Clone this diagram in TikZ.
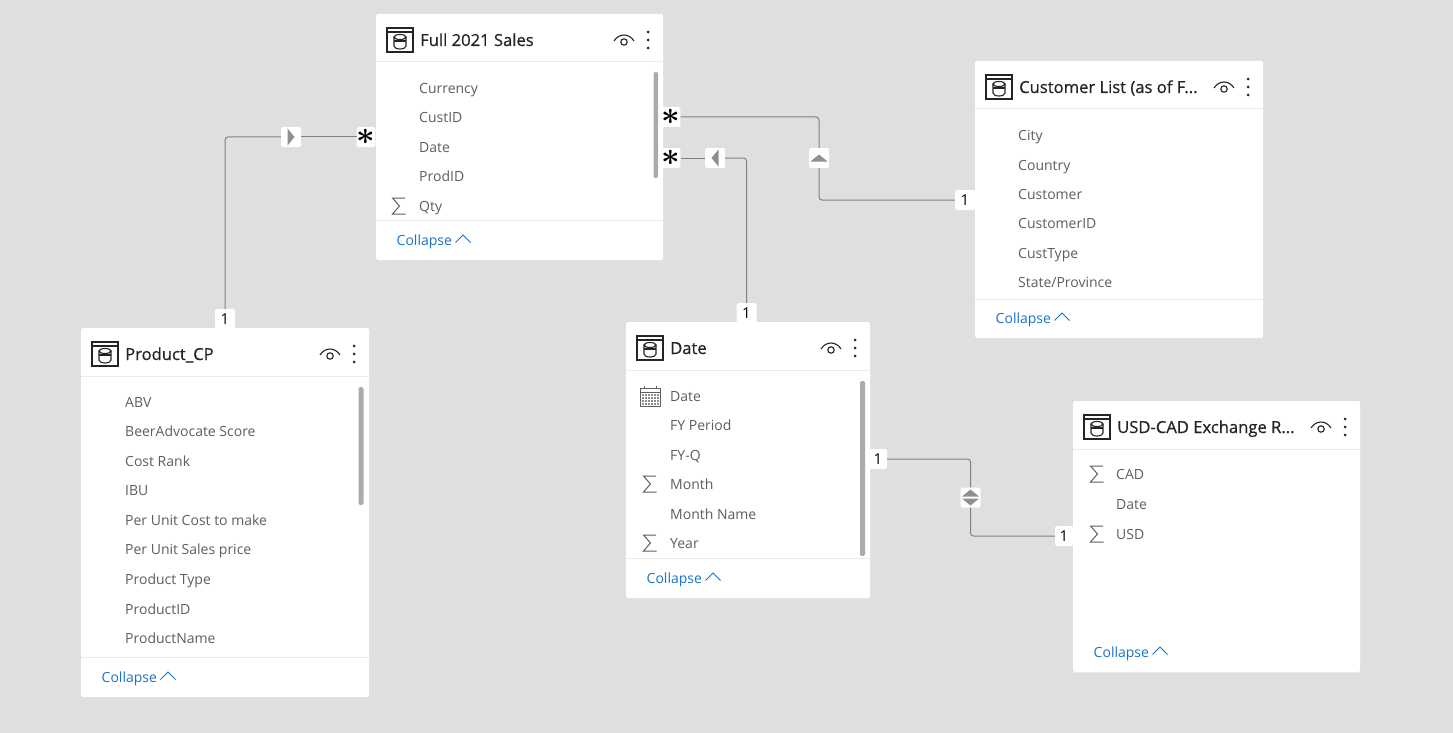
\documentclass[tikz,border=0pt]{standalone}
\usepackage{graphicx}
\usepackage{fontspec}
\setmainfont{Open Sans}
\newfontfamily\titlefont{Open Sans}[BoldFont={Open Sans},BoldFeatures={FakeBold=0.6}]
\usetikzlibrary{calc,positioning}
\definecolor{canvasgray}{HTML}{E0DFDD}
\definecolor{fieldgray}{HTML}{605E5C}
\definecolor{titleblack}{HTML}{252423}
\definecolor{linkblue}{HTML}{1A73C8}
\definecolor{relgray}{HTML}{808080}
\definecolor{arrowgray}{HTML}{8F8F8F}
\definecolor{sepgray}{HTML}{EDEBE9}
\definecolor{barsgray}{HTML}{ABABAB}
\newcommand{\manystar}{\scalebox{1.3}{\boldmath$\ast$}}
\tikzset{
    card/.style = {draw=none, fill=white, rounded corners=1.5pt, anchor=north west, inner sep=0pt, outer sep=0pt},
    titletxt/.style = {anchor=west, inner sep=0pt, yshift=-1.5pt, text=titleblack, font=\titlefont\bfseries\fontsize{16.6}{18}\selectfont, text height=12pt, text depth=3pt},
    fieldtxt/.style = {anchor=west, inner sep=0pt, yshift=-2pt, text=fieldgray, font=\fontsize{14}{16}\selectfont, text height=10pt, text depth=3pt},
    linktxt/.style = {anchor=west, inner sep=0pt, yshift=-2pt, text=linkblue, font=\fontsize{14}{16}\selectfont, text height=10pt, text depth=3pt},
    sepline/.style = {draw=sepgray, line width=1pt},
    scrollbar/.style = {fill=barsgray, rounded corners=2pt},
    tag/.style = {fill=white, rounded corners=1.5pt, inner sep=0pt, minimum width=20pt, minimum height=20pt, text=black},
    onetag/.style = {tag, font=\fontsize{15}{16}\selectfont},
    startag/.style = {tag, minimum width=18pt, font=\fontsize{24}{24}\selectfont},
    dirtag/.style = {tag},
    rel/.style = {draw=relgray, line width=1pt, rounded corners=3pt},
    tableicon/.pic = {
        \draw[titleblack, line width=1.2pt] (-13,-12) rectangle (13,12);
        \draw[titleblack, line width=1.2pt] (-13,-8) -- (13,-8);
        \draw[titleblack, line width=1.1pt] (-6,-3) -- (-6,6) arc[start angle=180, end angle=360, x radius=6, y radius=-3] -- (6,-3);
        \draw[titleblack, line width=1.1pt] (0,-3) ellipse[x radius=6, y radius=2.5];
        \draw[titleblack, line width=1.1pt] (-6,1) -- (6,1);
    },
    eyeicon/.pic = {
        \draw[titleblack, line width=1.1pt] (-10,1) .. controls (-5,-7) and (5,-7) .. (10,1);
        \draw[titleblack, line width=1.1pt] (0,2) circle[radius=3.2];
    },
    dotsicon/.pic = {
        \foreach \dy in {-8,0,8} \fill[titleblack] (0,\dy) circle[radius=1.5];
    },
    sigmaicon/.pic = {
        \draw[fieldgray, line width=1pt] (6,-8) -- (-6.5,-8) -- (0.5,0) -- (-6.5,8) -- (6.5,8);
    },
    calicon/.pic = {
        \draw[fieldgray, line width=1pt] (-10,-8) rectangle (10,10);
        \draw[fieldgray, line width=1pt] (-10,-4) -- (10,-4) (-6,-10) -- (-6,-8) (6,-10) -- (6,-8);
        \foreach \cy in {-1,2,5,8} \foreach \cx in {-7,-4,-1,2,5,8} \fill[fieldgray!70] (\cx-0.6,\cy-0.6) rectangle +(1.2,1.2);
    },
    dirarrow/.pic = {
        \fill[arrowgray] (-8.5,3.5) -- (8.5,3.5) -- (0,-3.5) -- cycle;
    },
    chevron/.pic = {
        \draw[linkblue, line width=0.9pt] (-7.5,3.5) -- (0,-4) -- (7.5,3.5);
    }
}
% name, left, top, width, height, footer line offset, title
\newcommand{\modeltable}[7]{
    \node[card, minimum width=#4pt, minimum height=#5pt] (#1) at (#2,#3) {};
    \draw[sepline] (#2,#3+48) -- (#2+#4,#3+48);
    \draw[sepline] (#2,#3+#6) -- (#2+#4,#3+#6);
    \pic at (#2+24,#3+26) {tableicon};
    \node[titletxt] (#1title) at (#2+44,#3+26) {#7};
    \pic at (#2+#4-39,#3+26) {eyeicon};
    \pic at (#2+#4-15,#3+26) {dotsicon};
    \node[linktxt] (#1collapse) at (#2+20.5,#3+#5-20) {Collapse};
    \pic at (#2+87,#3+#5-21) {chevron};
}

\begin{document}
\begin{tikzpicture}[x=1pt,y=-1pt]
    \fill[canvasgray] (0,0) rectangle (1453,733);
    \useasboundingbox (0,0) rectangle (1453,733);

    \modeltable{sales}{376}{14}{287}{246}{206}{Full 2021 Sales}
    \modeltable{cust}{975}{61}{288}{277}{238}{Customer List (as of F...}
    \modeltable{prod}{81}{328}{288}{369}{329}{Product\_CP}
    \modeltable{date}{626}{322}{244}{276}{236}{Date}
    \modeltable{fx}{1073}{401}{287}{271}{271}{USD-CAD Exchange R...}

    \foreach \yy/\txt [count=\i] in {88/Currency,117/CustID,147/Date,176/ProdID,206/Qty}
        \node[fieldtxt] (salesf\i) at (419,\yy) {\txt};
    \foreach \yy/\txt [count=\i] in {135/City,165/Country,194/Customer,223/CustomerID,253/CustType,282/State\slash Province}
        \node[fieldtxt] (custf\i) at (1018,\yy) {\txt};
    \foreach \yy/\txt [count=\i] in {402/ABV,431/BeerAdvocate Score,461/Cost Rank,490/IBU,520/Per Unit Cost to make,549/Per Unit Sales price,579/Product Type,609/ProductID,638/ProductName}
        \node[fieldtxt] (prodf\i) at (125,\yy) {\txt};
    \foreach \yy/\txt [count=\i] in {396/Date,425/FY Period,455/FY-Q,484/Month,514/Month Name,543/Year}
        \node[fieldtxt] (datef\i) at (670,\yy) {\txt};
    \foreach \yy/\txt [count=\i] in {474/CAD,504/Date,534/USD}
        \node[fieldtxt] (fxf\i) at (1116,\yy) {\txt};

    \pic at (399,206) {sigmaicon};
    \pic at (650,396) {calicon};
    \pic at (650,484) {sigmaicon};
    \pic at (650,543) {sigmaicon};
    \pic at (1097,474) {sigmaicon};
    \pic at (1097,534) {sigmaicon};

    \fill[scrollbar] (653.5,72) rectangle (658,178);
    \fill[scrollbar] (358.5,387) rectangle (363.5,505);
    \fill[scrollbar] (860,381) rectangle (865,556);

    \node[startag] (salesstar1) at (671,117) {\manystar};
    \node[startag] (salesstar2) at (671,158) {\manystar};
    \node[startag] (salesstar3) at (366,137) {\manystar};
    \node[onetag] (custone) at (965,200) {1};
    \node[onetag] (prodone) at (225,319) {1};
    \node[onetag] (dateone) at (746.5,313) {1};
    \node[onetag, minimum width=18pt] (dateright) at (878,459) {1};
    \node[onetag, minimum width=18pt] (fxone) at (1064,536) {1};
    \node[dirtag] (proddir) at (291,137) {};
    \node[dirtag] (custdir) at (819,158) {};
    \node[dirtag] (datedir) at (715,158) {};
    \node[dirtag] (fxdir) at (970.5,497.5) {};

    \pic[rotate=-90] at (proddir) {dirarrow};
    \pic at (custdir) {dirarrow};
    \pic[rotate=90] at (datedir) {dirarrow};
    \pic at ($(fxdir)+(0,-4.5)$) {dirarrow};
    \pic[rotate=180] at ($(fxdir)+(0,4.5)$) {dirarrow};

    \draw[rel] (prodone) |- (proddir);
    \draw[rel] (proddir) -- (salesstar3);
    \draw[rel] (salesstar1) -| (custdir);
    \draw[rel] (custdir) |- (custone);
    \draw[rel] (salesstar2) -- (datedir);
    \draw[rel] (datedir) -| (dateone);
    \draw[rel] (dateright) -| (fxdir);
    \draw[rel] (fxdir) |- (fxone);
\end{tikzpicture}
\end{document}
